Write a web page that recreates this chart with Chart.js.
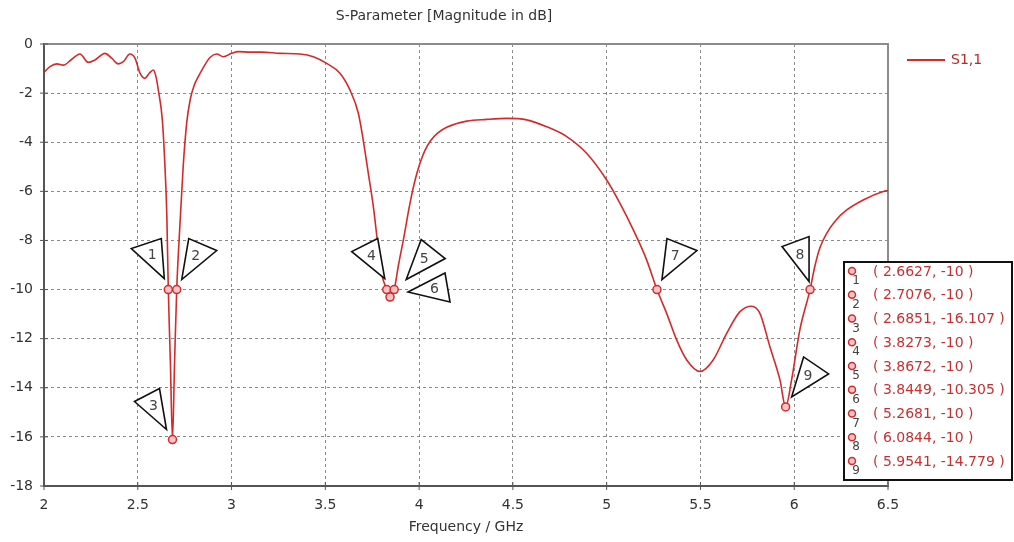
<!DOCTYPE html>
<html><head><meta charset="utf-8">
<script src="https://cdn.jsdelivr.net/npm/chart.js@4/dist/chart.umd.min.js"></script>
<style>html,body{margin:0;padding:0;background:#fff}#wrap{width:1014px;height:542px}</style>
</head><body><div id="wrap"><canvas id="c" width="1014" height="542"></canvas></div>
<script>
const chartTitle = 'S-Parameter [Magnitude in dB]';
const xAxisTitle = 'Frequency / GHz';
const seriesName = 'S1,1';
const freqGHz = [2.0,2.032,2.068,2.103,2.148,2.192,2.236,2.272,2.325,2.361,2.396,2.423,2.458,2.485,2.512,2.538,2.561,2.583,2.597,2.610,2.631,2.645,2.655,2.6627,2.674,2.6851,2.696,2.7076,2.726,2.742,2.761,2.780,2.800,2.825,2.850,2.885,2.921,2.956,3.0,3.036,3.10,3.16,3.258,3.365,3.436,3.507,3.578,3.631,3.676,3.702,3.729,3.756,3.777,3.800,3.8273,3.8449,3.8672,3.890,3.916,3.951,3.980,4.005,4.030,4.060,4.100,4.150,4.254,4.36,4.467,4.574,4.68,4.787,4.893,5.0,5.071,5.142,5.213,5.2681,5.32,5.373,5.427,5.498,5.568,5.64,5.711,5.773,5.817,5.87,5.924,5.9541,5.986,6.03,6.0844,6.110,6.137,6.170,6.220,6.28,6.368,6.475,6.5];
const s11dB = [-1.15,-0.92,-0.81,-0.86,-0.62,-0.41,-0.75,-0.65,-0.38,-0.58,-0.81,-0.72,-0.41,-0.58,-1.19,-1.40,-1.19,-1.06,-1.33,-1.90,-3.10,-5.00,-7.00,-10.0,-13.0,-16.107,-13.0,-10.0,-7.2,-5.0,-3.2,-2.25,-1.7,-1.3,-0.95,-0.55,-0.41,-0.52,-0.38,-0.31,-0.33,-0.33,-0.38,-0.41,-0.52,-0.79,-1.19,-1.87,-2.82,-3.91,-5.26,-6.62,-7.98,-9.34,-10.0,-10.305,-10.0,-9.0,-7.98,-6.5,-5.5,-4.85,-4.35,-3.95,-3.62,-3.38,-3.14,-3.07,-3.03,-3.09,-3.37,-3.77,-4.45,-5.54,-6.49,-7.57,-8.79,-10.0,-10.97,-12.05,-12.87,-13.34,-12.87,-11.78,-10.9,-10.68,-10.97,-12.32,-13.68,-14.779,-13.68,-11.64,-10.0,-9.05,-8.3,-7.75,-7.2,-6.76,-6.35,-6.01,-5.97];
const markerIds = ['1','2','3','4','5','6','7','8','9'];
const markerFreq = [2.6627,2.7076,2.6851,3.8273,3.8672,3.8449,5.2681,6.0844,5.9541];
const markerDB = [-10,-10,-16.107,-10,-10,-10.305,-10,-10,-14.779];
const xTicks = [2,2.5,3,3.5,4,4.5,5,5.5,6,6.5];
const yTicks = [0,-2,-4,-6,-8,-10,-12,-14,-16,-18];

const RED = '#d42a2a';
const FONT = 'DejaVu Sans';

// callout triangle geometry (pixel offsets relative to each marker)
const calloutShapes = [
  [[-4,-11],[-37,-41],[-7,-51]],
  [[5,-10],[12,-51],[40,-39]],
  [[-6,-10],[-38,-38],[-13,-51]],
  [[-2,-11],[-35,-38],[-9,-51]],
  [[12,-10],[27,-50],[51,-31]],
  [[18,-5],[55,-24],[60,5]],
  [[5,-10],[10,-51],[40,-39]],
  [[-1,-8],[-28,-43],[-1,-53]],
  [[6,-10],[18,-50],[43,-33]]
];

const decor = {
  id: 'decor',
  beforeDatasetsDraw(chart) {
    const {ctx, chartArea: a, scales: {x, y}} = chart;
    ctx.save();
    ctx.strokeStyle = '#8c8c8c'; ctx.lineWidth = 2;
    ctx.beginPath(); ctx.moveTo(a.left, a.top); ctx.lineTo(a.right, a.top); ctx.lineTo(a.right, a.bottom); ctx.stroke();
    ctx.strokeStyle = '#555'; ctx.lineWidth = 1;
    ctx.beginPath();
    xTicks.forEach(v => { const px = x.getPixelForValue(v); ctx.moveTo(px, a.bottom - 4); ctx.lineTo(px, a.bottom + 4); });
    yTicks.forEach(v => { const py = y.getPixelForValue(v); ctx.moveTo(a.left - 4, py); ctx.lineTo(a.left + 4, py); });
    ctx.stroke();
    ctx.restore();
  },
  afterDatasetsDraw(chart) {
    const {ctx, chartArea: a, scales: {x, y}, width} = chart;
    ctx.save();
    // callouts
    markerIds.forEach((id, i) => {
      const mx = x.getPixelForValue(markerFreq[i]);
      const my = y.getPixelForValue(markerDB[i]);
      const pts = calloutShapes[i].map(p => [mx + p[0], my + p[1]]);
      ctx.beginPath();
      ctx.moveTo(pts[0][0], pts[0][1]); ctx.lineTo(pts[1][0], pts[1][1]); ctx.lineTo(pts[2][0], pts[2][1]); ctx.closePath();
      ctx.fillStyle = '#fff'; ctx.fill();
      ctx.strokeStyle = '#111'; ctx.lineWidth = 1.6; ctx.stroke();
      const cx = (pts[0][0] + pts[1][0] + pts[2][0]) / 3;
      const cy = (pts[0][1] + pts[1][1] + pts[2][1]) / 3;
      ctx.fillStyle = '#444'; ctx.font = '14px "' + FONT + '"';
      ctx.textAlign = 'center'; ctx.textBaseline = 'middle';
      ctx.fillText(id, cx, cy);
    });
    // legend
    const lx = a.right + 19, ly = 60;
    ctx.strokeStyle = RED; ctx.lineWidth = 2;
    ctx.beginPath(); ctx.moveTo(lx, ly); ctx.lineTo(lx + 38, ly); ctx.stroke();
    ctx.fillStyle = '#b82828'; ctx.font = '14px "' + FONT + '"';
    ctx.textAlign = 'left'; ctx.textBaseline = 'middle';
    ctx.fillText(seriesName, lx + 44, ly);
    // marker table
    const bx = 844, by = 262, bw = width - 2 - bx, bh = 218;
    ctx.fillStyle = '#fff'; ctx.fillRect(bx, by, bw, bh);
    ctx.strokeStyle = '#111'; ctx.lineWidth = 2; ctx.strokeRect(bx, by, bw, bh);
    markerIds.forEach((id, i) => {
      const ry = 272 + i * 23.75;
      ctx.beginPath(); ctx.arc(bx + 8, ry - 1, 3.5, 0, Math.PI * 2);
      ctx.fillStyle = '#f6c4c4'; ctx.fill();
      ctx.strokeStyle = RED; ctx.lineWidth = 1.5; ctx.stroke();
      ctx.fillStyle = '#444'; ctx.font = '12px "' + FONT + '"';
      ctx.textAlign = 'center'; ctx.fillText(id, bx + 12, ry + 9);
      ctx.fillStyle = '#c83030'; ctx.font = '14px "' + FONT + '"';
      ctx.textAlign = 'left';
      ctx.fillText('( ' + markerFreq[i] + ', ' + markerDB[i] + ' )', bx + 29, ry);
    });
    ctx.restore();
  }
};

new Chart(document.getElementById('c'), {
  type: 'line',
  data: {
    datasets: [
      {
        label: seriesName,
        data: freqGHz.map((f, i) => ({x: f, y: s11dB[i]})),
        borderColor: RED, borderWidth: 1.6, pointRadius: 0,
        cubicInterpolationMode: 'monotone', fill: false, order: 2
      },
      {
        label: 'markers',
        data: markerFreq.map((f, i) => ({x: f, y: markerDB[i]})),
        showLine: false, pointRadius: 4, pointBorderWidth: 1.5,
        pointBorderColor: RED, pointBackgroundColor: '#f6c4c4', order: 1
      }
    ]
  },
  options: {
    responsive: false, animation: false, devicePixelRatio: 1,
    layout: {padding: {left: 0, right: 126, top: 0, bottom: 0}},
    plugins: {
      legend: {display: false}, tooltip: {enabled: false},
      title: {display: true, text: chartTitle, color: '#333',
        font: {family: FONT, size: 14, weight: 'normal'}, padding: {top: 8, bottom: 19.2}}
    },
    scales: {
      x: {
        type: 'linear', min: 2, max: 6.5,
        afterBuildTicks: s => { s.ticks = xTicks.map(v => ({value: v})); },
        afterFit: s => { s.height = 56; },
        ticks: {color: '#333', padding: 11, font: {family: FONT, size: 14}, callback: v => String(v)},
        grid: {color: '#8a8a8a', lineWidth: 1, drawTicks: false},
        border: {display: true, color: '#555', width: 2, dash: [3, 3]},
        title: {display: true, text: xAxisTitle, color: '#333', padding: {top: 4, bottom: 6},
          font: {family: FONT, size: 14}}
      },
      y: {
        type: 'linear', min: -18, max: 0,
        afterBuildTicks: s => { s.ticks = yTicks.map(v => ({value: v})); },
        afterFit: s => { s.width = 44; },
        ticks: {color: '#333', padding: 11, font: {family: FONT, size: 14}, callback: v => String(v)},
        grid: {color: '#8a8a8a', lineWidth: 1, drawTicks: false},
        border: {display: true, color: '#555', width: 2, dash: [3, 3]}
      }
    }
  },
  plugins: [decor]
});
</script></body></html>
